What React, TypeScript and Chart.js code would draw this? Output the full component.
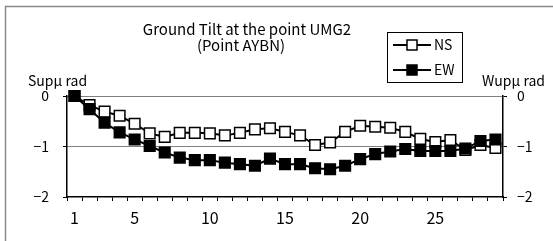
import React, { useEffect, useRef } from 'react';
import { Chart, registerables } from 'chart.js';

Chart.register(...registerables);

const DAYS = ['1', '2', '3', '4', '5', '6', '7', '8', '9', '10', '11', '12', '13', '14', '15', '16', '17', '18', '19', '20', '21', '22', '23', '24', '25', '26', '27', '28', '29'];
const SHOWN_DAYS = ['1', '5', '10', '15', '20', '25'];
const NS = [0, -0.18, -0.31, -0.39, -0.55, -0.74, -0.81, -0.73, -0.73, -0.74, -0.78, -0.73, -0.66, -0.64, -0.71, -0.78, -0.97, -0.92, -0.71, -0.59, -0.61, -0.63, -0.71, -0.85, -0.91, -0.87, -1.07, -0.97, -1.03];
const EW = [0, -0.26, -0.53, -0.72, -0.86, -0.99, -1.12, -1.22, -1.27, -1.27, -1.32, -1.35, -1.38, -1.24, -1.35, -1.35, -1.43, -1.45, -1.38, -1.25, -1.15, -1.10, -1.05, -1.09, -1.09, -1.09, -1.04, -0.89, -0.86];
const Y_MIN = -2;
const Y_MAX = 0;
const TITLE = ['Ground Tilt at the point UMG2', '(Point AYBN)'];
const LEFT_AXIS_TITLE = 'Supμ rad';
const RIGHT_AXIS_TITLE = 'Wupμ rad';
const SERIES_NAMES = ['NS', 'EW'];

const FONT_FAMILY = "'Noto Sans CJK JP', 'Liberation Sans', sans-serif";

const fmtTick = (v: number) => (v === 0 ? '0' : '\u2212' + Math.abs(v));

const decorPlugin = {
  id: 'decor',
  beforeDraw(chart: any) {
    const ctx = chart.ctx;
    ctx.save();
    ctx.fillStyle = '#fff';
    ctx.fillRect(0, 0, chart.width, chart.height);
    ctx.strokeStyle = '#8a8a8a';
    ctx.lineWidth = 1.5;
    ctx.strokeRect(5.5, 6.5, 700, 400);
    ctx.restore();
  },
  afterDraw(chart: any) {
    const ctx = chart.ctx;
    ctx.save();
    ctx.fillStyle = '#000';
    ctx.textBaseline = 'middle';
    ctx.font = `15px ${FONT_FAMILY}`;
    ctx.textAlign = 'center';
    ctx.fillText(TITLE[0], 247, 29);
    ctx.fillText(TITLE[1], 241, 45);
    ctx.font = `14px ${FONT_FAMILY}`;
    ctx.textAlign = 'left';
    ctx.fillText(LEFT_AXIS_TITLE, 28, 81);
    ctx.fillText(RIGHT_AXIS_TITLE, 482, 81);

    // legend box
    ctx.fillStyle = '#fff';
    ctx.fillRect(387, 32, 76, 51);
    ctx.strokeStyle = '#000';
    ctx.lineWidth = 1;
    ctx.strokeRect(387.5, 32.5, 75, 50);
    const rows = [45, 70];
    rows.forEach((y, i) => {
      ctx.strokeStyle = '#000';
      ctx.lineWidth = 2;
      ctx.beginPath();
      ctx.moveTo(393, y);
      ctx.lineTo(431, y);
      ctx.stroke();
      ctx.lineWidth = 1.5;
      ctx.fillStyle = i === 0 ? '#fff' : '#000';
      ctx.fillRect(407, y - 5, 10, 10);
      ctx.strokeRect(407, y - 5, 10, 10);
      ctx.fillStyle = '#000';
      ctx.font = `14px ${FONT_FAMILY}`;
      ctx.textAlign = 'left';
      ctx.fillText(SERIES_NAMES[i], 434, y);
    });
    ctx.restore();
  },
};

export default function App() {
  const ref = useRef<HTMLCanvasElement | null>(null);

  useEffect(() => {
    if (!ref.current) return;
    const xFont = { family: FONT_FAMILY, size: 16 };
    const yFont = { family: FONT_FAMILY, size: 14 };
    const chart = new Chart(ref.current, {
      type: 'line',
      data: {
        labels: DAYS,
        datasets: [
          {
            label: SERIES_NAMES[0],
            data: NS,
            borderColor: '#000',
            borderWidth: 2,
            backgroundColor: '#fff',
            pointStyle: 'rect',
            pointRadius: 7.5,
            pointBorderWidth: 1.5,
            pointBackgroundColor: '#fff',
            pointBorderColor: '#000',
            tension: 0,
            clip: false,
            order: 1,
          },
          {
            label: SERIES_NAMES[1],
            data: EW,
            borderColor: '#000',
            borderWidth: 2,
            backgroundColor: '#000',
            pointStyle: 'rect',
            pointRadius: 7.5,
            pointBorderWidth: 1.5,
            pointBackgroundColor: '#000',
            pointBorderColor: '#000',
            tension: 0,
            clip: false,
            order: 0,
          },
        ],
      },
      options: {
        responsive: false,
        animation: false,
        layout: { padding: { top: 96, left: 0, right: 0, bottom: 0 } },
        plugins: {
          legend: { display: false },
          title: { display: false },
          tooltip: { enabled: false },
        },
        scales: {
          x: {
            type: 'category',
            offset: true,
            grid: {
              offset: true,
              drawOnChartArea: false,
              drawTicks: true,
              tickLength: 4,
              color: '#000',
              tickColor: '#000',
            },
            border: { display: true, color: '#000', width: 1.5 },
            ticks: {
              autoSkip: false,
              maxRotation: 0,
              minRotation: 0,
              padding: 7,
              color: '#000',
              font: xFont,
              callback: (_v: any, idx: number) => (SHOWN_DAYS.includes(DAYS[idx]) ? DAYS[idx] : ''),
            },
            afterFit: (s: any) => {
              s.height = 44;
            },
          },
          y: {
            position: 'left',
            min: Y_MIN,
            max: Y_MAX,
            ticks: { stepSize: 1, padding: 14, color: '#000', font: yFont, callback: (v: any) => fmtTick(Number(v)) },
            grid: {
              color: (c: any) => (c.tick && c.tick.value === Y_MIN ? 'rgba(0,0,0,0)' : '#000'),
              tickColor: '#000',
              tickLength: 4,
              drawTicks: true,
            },
            border: { display: true, color: '#000', width: 1.5, dash: [1, 1] },
            afterFit: (s: any) => {
              s.width = 67;
            },
          },
          y2: {
            position: 'right',
            min: Y_MIN,
            max: Y_MAX,
            ticks: { stepSize: 1, padding: 10, color: '#000', font: yFont, callback: (v: any) => fmtTick(Number(v)) },
            grid: { drawOnChartArea: false, color: '#000', tickColor: '#000', tickLength: 4 },
            border: { display: true, color: '#000', width: 1.5 },
            afterFit: (s: any) => {
              s.width = 50;
            },
          },
        },
      },
      plugins: [decorPlugin],
    });
    return () => chart.destroy();
  }, []);

  return (
    <div style={{ position: 'absolute', left: 0, top: 0, width: 553, height: 241 }}>
      <canvas ref={ref} width={553} height={241} />
    </div>
  );
}
